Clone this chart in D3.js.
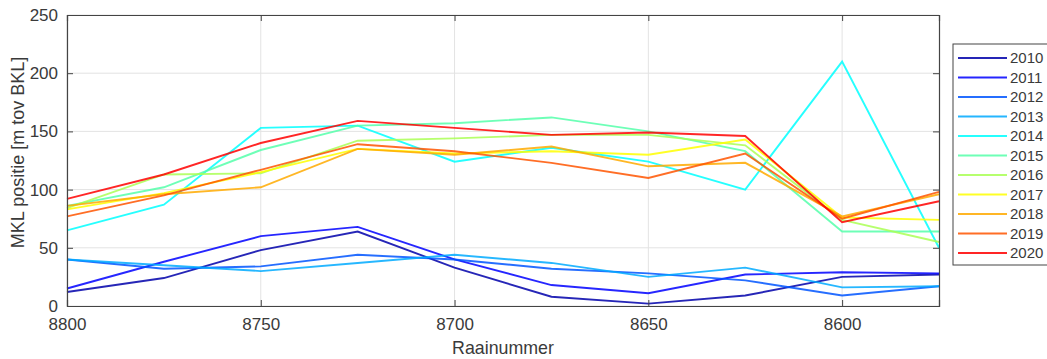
<!DOCTYPE html>
<html>
<head>
<meta charset="utf-8">
<script src="https://cdn.jsdelivr.net/npm/d3@7"></script>
<style>
  body { margin: 0; background: #fff; }
  text { font-family: "Liberation Sans", Arial, sans-serif; fill: #3a3a3a; }
</style>
</head>
<body>
<div id="chart"></div>
<script>
// raai numbers (x axis is reversed, 8800 on the left)
var raaien = [8800, 8775, 8750, 8725, 8700, 8675, 8650, 8625, 8600, 8575];
var years = ["2010", "2011", "2012", "2013", "2014", "2015", "2016", "2017", "2018", "2019", "2020"];
var xTicks = [8800, 8750, 8700, 8650, 8600];
var yTicks = [0, 50, 100, 150, 200, 250];

// MKL position per year
var mkl2010 = [12, 24, 48, 64, 33, 8, 2, 9, 25, 27];
var mkl2011 = [15, 38, 60, 68, 40, 18, 11, 27, 29, 28];
var mkl2012 = [40, 32, 34, 44, 40, 32, 28, 22, 9, 17];
var mkl2013 = [40, 35, 30, 37, 44, 37, 25, 33, 16, 17];
var mkl2014 = [65, 87, 153, 155, 124, 136, 124, 100, 210, 50];
var mkl2015 = [86, 102, 134, 155, 157, 162, 150, 133, 64, 64];
var mkl2016 = [84, 113, 114, 142, 144, 147, 147, 138, 74, 55];
var mkl2017 = [83, 97, 115, 135, 131, 133, 130, 143, 76, 74];
var mkl2018 = [86, 96, 102, 135, 130, 137, 120, 123, 77, 96];
var mkl2019 = [77, 95, 117, 139, 133, 123, 110, 131, 75, 98];
var mkl2020 = [92, 113, 140, 159, 153, 147, 149, 146, 72, 90];

var allSeries = [mkl2010, mkl2011, mkl2012, mkl2013, mkl2014, mkl2015,
                 mkl2016, mkl2017, mkl2018, mkl2019, mkl2020];

// matlab jet(11)
var colors = ["#0000aa", "#0000ff", "#0055ff", "#00aaff", "#00ffff", "#55ffaa",
              "#aaff55", "#ffff00", "#ffaa00", "#ff5500", "#ff0000"];

var svgWidth = 1047, svgHeight = 359;
var margin = {top: 15, right: 108, bottom: 53, left: 67};
var plotWidth = svgWidth - margin.left - margin.right;
var plotHeight = svgHeight - margin.top - margin.bottom;

var svg = d3.select("#chart").append("svg")
  .attr("width", svgWidth)
  .attr("height", svgHeight);

var g = svg.append("g")
  .attr("transform", `translate(${margin.left}, ${margin.top})`);

var xScale = d3.scaleLinear().domain([8800, 8575]).range([0, plotWidth]);
var yScale = d3.scaleLinear().domain([0, 250]).range([plotHeight, 0]);

// grid
g.append("g").selectAll("line").data(xTicks).enter().append("line")
  .attr("x1", d => xScale(d)).attr("x2", d => xScale(d))
  .attr("y1", 0).attr("y2", plotHeight)
  .attr("stroke", "#e3e3e3").attr("stroke-width", 1);
g.append("g").selectAll("line").data(yTicks).enter().append("line")
  .attr("x1", 0).attr("x2", plotWidth)
  .attr("y1", d => yScale(d)).attr("y2", d => yScale(d))
  .attr("stroke", "#e3e3e3").attr("stroke-width", 1);

// lines
var line = d3.line()
  .x((d, i) => xScale(raaien[i]))
  .y(d => yScale(d));

g.append("g").selectAll("path").data(allSeries).enter().append("path")
  .attr("d", d => line(d))
  .attr("fill", "none")
  .attr("stroke", (d, i) => colors[i])
  .attr("stroke-width", 1.9)
  .attr("opacity", 0.85);

// axes (ticks pointing inwards, mirrored like matlab box on)
var xAxis = d3.axisBottom(xScale).tickValues(xTicks).tickSize(-6).tickPadding(12).tickFormat(d3.format("d"));
var yAxis = d3.axisLeft(yScale).tickValues(yTicks).tickSize(-6).tickPadding(9);

g.append("g").attr("transform", `translate(0, ${plotHeight})`).call(xAxis);
g.append("g").call(yAxis);
g.append("g").call(d3.axisTop(xScale).tickValues(xTicks).tickSize(-6).tickFormat(""));
g.append("g").attr("transform", `translate(${plotWidth}, 0)`)
  .call(d3.axisRight(yScale).tickValues(yTicks).tickSize(-6).tickFormat(""));

g.selectAll(".domain").attr("stroke", "#444").attr("stroke-width", 1.2);
g.selectAll(".tick line").attr("stroke", "#444");
g.selectAll(".tick text").attr("font-size", "17px").attr("fill", "#3a3a3a")
  .style("font-family", "Liberation Sans, Arial, sans-serif");

// axis labels
g.append("text")
  .attr("x", plotWidth / 2)
  .attr("y", plotHeight + 48)
  .attr("text-anchor", "middle")
  .attr("font-size", "17.8px")
  .text("Raainummer");

g.append("text")
  .attr("transform", "rotate(-90)")
  .attr("x", -plotHeight / 2 + 8)
  .attr("y", -43)
  .attr("text-anchor", "middle")
  .attr("font-size", "18px")
  .text("MKL positie [m tov BKL]");

// legend
var legend = svg.append("g").attr("transform", "translate(953, 44)");
legend.append("rect")
  .attr("width", 100).attr("height", 221)
  .attr("fill", "#fff").attr("stroke", "#444").attr("stroke-width", 1);

var items = legend.selectAll("g.item").data(years).enter().append("g")
  .attr("class", "item")
  .attr("transform", (d, i) => `translate(0, ${14 + i * 19.5})`);
items.append("line")
  .attr("x1", 5).attr("x2", 54)
  .attr("stroke", (d, i) => colors[i]).attr("stroke-width", 1.9).attr("opacity", 0.85);
items.append("text")
  .attr("x", 57).attr("y", 0)
  .attr("dy", "0.35em")
  .attr("font-size", "15px")
  .text(d => d);
</script>
</body>
</html>
